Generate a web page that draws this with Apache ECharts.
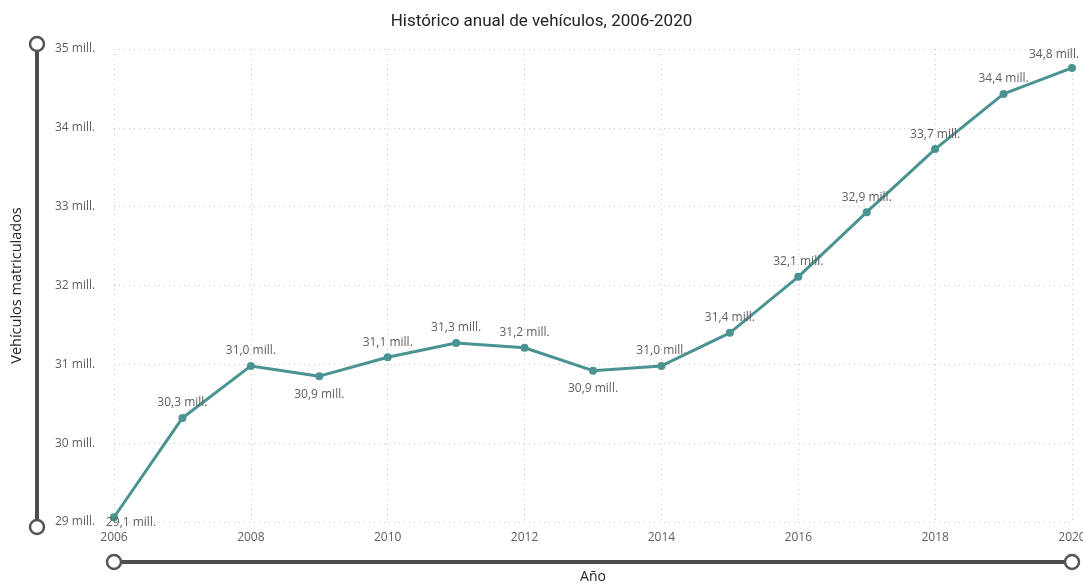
<!DOCTYPE html>
<html>
<head>
<meta charset="utf-8">
<script src="https://cdn.jsdelivr.net/npm/echarts@6/dist/echarts.min.js"></script>
<style>
html,body{margin:0;padding:0;background:#fff;}
#chart{width:1083px;height:586px;}
</style>
</head>
<body>
<div id="chart"></div>
<script>
const years = [2006,2007,2008,2009,2010,2011,2012,2013,2014,2015,2016,2017,2018,2019,2020];
const vehicles = [29.06,30.32,30.98,30.85,31.09,31.27,31.21,30.92,30.98,31.40,32.11,32.93,33.73,34.43,34.76];
const labelPlacement = ['bottomRight','top','top','bottom','top','top','top','bottom','top','top','top','top','top','top','topLeft'];
const titleText = 'Histórico anual de vehículos, 2006-2020';
const yAxisName = 'Vehículos matriculados';
const xAxisName = 'Año';

const fmt = v => v.toFixed(1).replace('.', ',') + ' mill.';

const placementStyle = {
  top: {position: 'top', distance: 5},
  bottom: {position: 'bottom', distance: 8},
  bottomRight: {position: 'bottom', distance: 0, offset: [17, -5]},
  topLeft: {position: 'top', distance: 3, offset: [-18, 0]}
};

const seriesData = years.map((y, i) => ({
  value: [y, vehicles[i]],
  label: placementStyle[labelPlacement[i]]
}));

const chart = echarts.init(document.getElementById('chart'));
const sliderLine = '#4d4d4d';
function handle(cx, cy) {
  return {type: 'circle', shape: {cx: cx, cy: cy, r: 7}, style: {fill: '#fff', stroke: '#555', lineWidth: 2.5}, z: 10};
}

chart.setOption({
  animation: false,
  textStyle: {fontFamily: 'Open Sans'},
  title: {
    text: titleText,
    left: 'center',
    top: 8,
    textStyle: {fontFamily: 'Roboto', fontSize: 17, fontWeight: 'normal', color: '#252423'}
  },
  grid: {left: 114, right: 11, top: 49, bottom: 64, outerBoundsMode: 'none', containLabel: false},
  xAxis: {
    type: 'value',
    min: 2006, max: 2020, interval: 2,
    name: xAxisName,
    nameLocation: 'middle',
    nameGap: 48,
    nameTextStyle: {fontFamily: 'Open Sans', fontSize: 14, color: '#252423'},
    axisLine: {show: false},
    axisTick: {show: false},
    axisLabel: {formatter: v => String(v), color: '#605E5C', fontSize: 12, margin: 10},
    splitLine: {show: true, lineStyle: {type: [1, 4], color: '#c8c8c8', width: 1}}
  },
  yAxis: {
    type: 'value',
    min: 29, max: 35, interval: 1,
    name: yAxisName,
    nameLocation: 'middle',
    nameGap: 90,
    nameRotate: 90,
    nameTextStyle: {fontFamily: 'Open Sans', fontSize: 14.5, color: '#252423'},
    axisLine: {show: false},
    axisTick: {show: false},
    axisLabel: {formatter: '{value} mill.', color: '#605E5C', fontSize: 12, align: 'left', margin: 59},
    splitLine: {show: true, lineStyle: {type: [1, 4], color: '#c8c8c8', width: 1}}
  },
  series: [{
    type: 'line',
    data: seriesData,
    symbol: 'circle',
    symbolSize: 8,
    lineStyle: {color: '#4A9391', width: 3},
    itemStyle: {color: '#4A9391'},
    label: {show: true, formatter: p => fmt(p.value[1]), color: '#605E5C', fontSize: 12, fontFamily: 'Open Sans'}
  }],
  graphic: [
    {type: 'line', shape: {x1: 37, y1: 44, x2: 37, y2: 527}, style: {stroke: sliderLine, lineWidth: 4}},
    handle(37, 44), handle(37, 527),
    {type: 'line', shape: {x1: 114, y1: 562, x2: 1072, y2: 562}, style: {stroke: sliderLine, lineWidth: 4}},
    handle(114, 562), handle(1072, 562)
  ]
});
</script>
</body>
</html>
